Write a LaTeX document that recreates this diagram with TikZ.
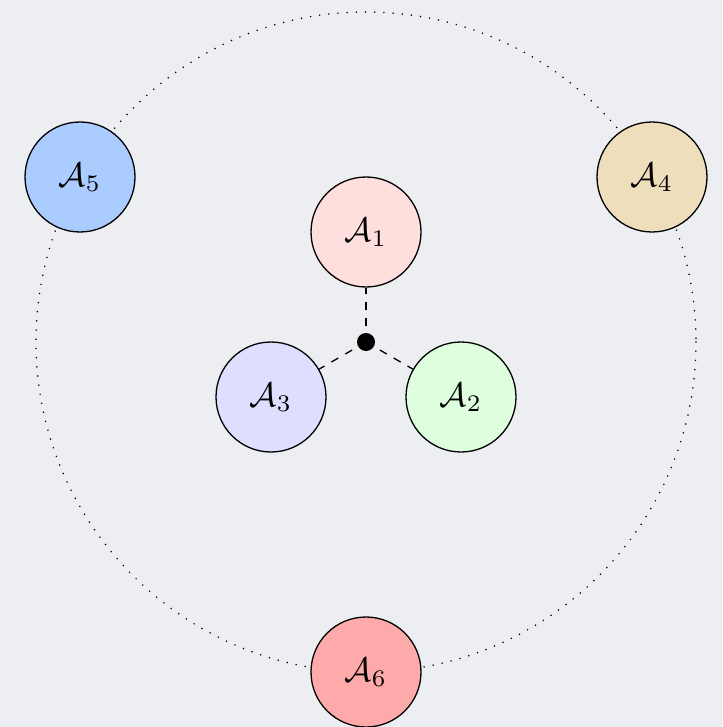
\documentclass[tikz,border=0pt]{standalone}
\usepackage{graphicx}
\usetikzlibrary{calc}
\definecolor{bg}{RGB}{236,238,241}
\definecolor{cA}{RGB}{255,222,222}
\definecolor{cB}{RGB}{222,255,222}
\definecolor{cC}{RGB}{222,222,255}
\definecolor{cD}{RGB}{238,222,187}
\definecolor{cE}{RGB}{170,204,255}
\definecolor{cF}{RGB}{255,170,170}
\newcommand{\ag}[1]{\scalebox{3.4}{$\mathcal{A}_{#1}$}}
\begin{document}
\begin{tikzpicture}[x=1pt,y=-1pt,
  agent/.style={circle,draw=black,line width=1.3pt,minimum size=110pt,inner sep=0pt},
  link/.style={line width=1.3pt,dash pattern=on 8pt off 8pt},
  orbit/.style={line width=1.7pt,line cap=round,dash pattern=on 0pt off 9.2pt}]
\fill[bg] (0,0) rectangle (722,727);
\useasboundingbox (0,0) rectangle (722,727);
\coordinate (c) at (366,342);
\draw[orbit] (c) circle[radius=330];
\node[agent,fill=cA] (a1) at (366,232) {\ag{1}};
\node[agent,fill=cB] (a2) at (461,397) {\ag{2}};
\node[agent,fill=cC] (a3) at (271,397) {\ag{3}};
\node[agent,fill=cD] (a4) at (652,177) {\ag{4}};
\node[agent,fill=cE] (a5) at (80,177) {\ag{5}};
\node[agent,fill=cF] (a6) at (366,672) {\ag{6}};
\draw[link] (c) -- (a1);
\draw[link] (c) -- (a2);
\draw[link] (c) -- (a3);
\fill (c) circle[radius=9];
\end{tikzpicture}
\end{document}
